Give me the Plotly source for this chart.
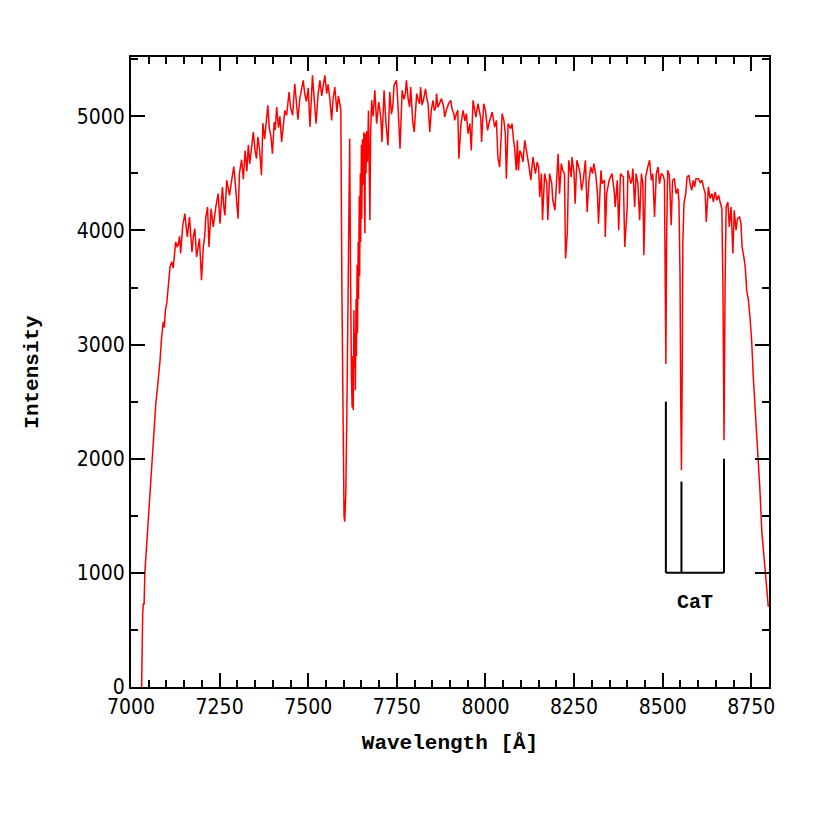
import plotly.graph_objects as go

# spectrum (wavelength in Angstrom, intensity)
wave = [7030, 7031, 7033, 7035, 7037, 7039, 7044, 7049, 7054, 7058, 7061, 7065, 7067, 7070, 7074, 7077, 7080, 7082, 7086, 7091,
        7094, 7097, 7101, 7105, 7108, 7110, 7115, 7119, 7123, 7126, 7130, 7133, 7137, 7140, 7146, 7152, 7155, 7159, 7165, 7168,
        7172, 7176, 7180, 7185, 7189, 7193, 7196, 7199, 7204, 7208, 7211, 7216, 7220, 7226, 7232, 7236, 7240, 7246, 7251, 7255,
        7258, 7262, 7265, 7270, 7274, 7278, 7284, 7290, 7295, 7302, 7306, 7312, 7317, 7322, 7327, 7331, 7335, 7340, 7345, 7350,
        7354, 7358, 7363, 7368, 7372, 7377, 7382, 7386, 7390, 7395, 7399, 7404, 7407, 7411, 7416, 7420, 7425, 7430, 7434, 7439,
        7446, 7450, 7456, 7462, 7466, 7471, 7476, 7481, 7486, 7490, 7495, 7500, 7505, 7512, 7517, 7522, 7528, 7533, 7538, 7542,
        7547, 7552, 7556, 7561, 7566, 7570, 7575, 7581, 7585, 7589, 7592, 7595, 7598, 7601, 7603, 7606, 7609, 7612, 7615, 7617,
        7619, 7620, 7622, 7624, 7626, 7627, 7629, 7630, 7632, 7633, 7635, 7636, 7638, 7639, 7641, 7642, 7644, 7645, 7647, 7648,
        7650, 7651, 7653, 7655, 7657, 7659, 7660, 7661, 7663, 7665, 7667, 7670, 7672, 7674, 7676, 7679, 7683, 7688, 7693, 7699,
        7705, 7708, 7714, 7719, 7725, 7730, 7735, 7739, 7742, 7749, 7753, 7759, 7765, 7770, 7774, 7777, 7782, 7786, 7789, 7795,
        7799, 7806, 7810, 7814, 7817, 7821, 7825, 7831, 7835, 7838, 7843, 7847, 7852, 7856, 7860, 7862, 7866, 7870, 7876, 7882,
        7885, 7890, 7896, 7902, 7906, 7911, 7913, 7918, 7922, 7925, 7928, 7931, 7937, 7942, 7946, 7951, 7956, 7960, 7965, 7969,
        7973, 7979, 7983, 7987, 7989, 7995, 8000, 8006, 8011, 8015, 8019, 8026, 8031, 8035, 8040, 8044, 8047, 8052, 8056, 8059,
        8064, 8071, 8075, 8079, 8082, 8087, 8090, 8093, 8097, 8101, 8106, 8111, 8118, 8123, 8128, 8134, 8141, 8146, 8150, 8153,
        8158, 8161, 8167, 8173, 8176, 8181, 8187, 8190, 8196, 8201, 8205, 8209, 8214, 8218, 8223, 8226, 8231, 8235, 8242, 8244,
        8250, 8253, 8258, 8263, 8267, 8271, 8276, 8282, 8287, 8292, 8297, 8302, 8306, 8312, 8316, 8319, 8326, 8329, 8336, 8338,
        8342, 8349, 8354, 8357, 8363, 8366, 8372, 8376, 8381, 8389, 8393, 8400, 8402, 8410, 8413, 8416, 8421, 8425, 8430, 8435,
        8440, 8444, 8447, 8452, 8458, 8463, 8468, 8472, 8477, 8482, 8487, 8491, 8496, 8501, 8505, 8507, 8509, 8511, 8514, 8519,
        8524, 8528, 8533, 8538, 8543, 8546, 8549, 8551, 8553, 8555, 8557, 8560, 8565, 8569, 8574, 8578, 8582, 8586, 8590, 8594,
        8597, 8601, 8606, 8611, 8615, 8620, 8623, 8626, 8629, 8634, 8639, 8643, 8648, 8653, 8658, 8662, 8667, 8670, 8673, 8676,
        8679, 8684, 8688, 8693, 8698, 8702, 8707, 8711, 8717, 8721, 8724, 8729, 8733, 8737, 8742, 8747, 8751, 8756, 8761, 8768,
        8774, 8780, 8786, 8790, 8794, 8798]

flux = [0, 630, 650, 733, 720, 996, 1229, 1491, 1696, 1959, 2100, 2280, 2300, 2484, 2600, 2688, 2750, 2864, 3050, 3199,
        3150, 3300, 3363, 3505, 3600, 3680, 3725, 3670, 3800, 3900, 3860, 3870, 3950, 3798, 4046, 4148, 4050, 3944, 4118, 4000,
        3812, 3950, 4016, 3768, 3850, 3929, 3750, 3564, 3856, 3950, 4118, 4206, 3856, 4190, 4031, 4150, 4221, 4323, 4060, 4250,
        4381, 4200, 4133, 4440, 4350, 4308, 4440, 4560, 4380, 4104, 4500, 4620, 4450, 4700, 4520, 4750, 4586, 4750, 4863, 4700,
        4630, 4820, 4700, 4484, 4940, 4800, 5000, 5097, 4900, 4820, 4673, 4950, 4880, 5082, 4900, 5000, 4776, 4950, 5050, 5009,
        5213, 5080, 5009, 5286, 5150, 4970, 5150, 5250, 5315, 5200, 5130, 5250, 4906, 5359, 5150, 4935, 5200, 5315, 5180, 5280,
        5359, 5200, 5280, 5155, 4965, 5150, 5257, 5038, 5180, 5111, 5050, 3500, 2000, 1500, 1448, 1700, 2400, 3500, 4500, 4805,
        3800, 3000, 2700, 2450, 2900, 2426, 3300, 2800, 3100, 2600, 3400, 2900, 3700, 3100, 3900, 3400, 4300, 3600, 4500, 3900,
        4750, 4100, 4800, 4400, 4860, 4200, 3976, 4850, 4500, 4870, 4600, 5050, 4700, 4090, 4863, 5140, 5000, 5228, 4936, 5126,
        4980, 4776, 5228, 4950, 4746, 5213, 5020, 5100, 5272, 5315, 5111, 4717, 5228, 5150, 5199, 5315, 5150, 5082, 5257, 4950,
        4863, 5199, 5150, 5111, 5257, 5100, 5140, 5242, 5150, 5111, 4863, 5050, 5140, 5050, 5082, 5199, 5080, 5111, 5155, 5082,
        4994, 5060, 5111, 5140, 5060, 5024, 4965, 5020, 5053, 4629, 4800, 4936, 5053, 4960, 5024, 4848, 4936, 4702, 5140, 5050,
        4994, 5111, 5030, 4980, 4776, 5111, 5053, 4877, 4950, 4994, 5038, 4906, 4965, 4644, 4556, 4800, 5024, 4965, 4850, 4454,
        4936, 4892, 4936, 4800, 4731, 4527, 4790, 4527, 4700, 4673, 4600, 4790, 4673, 4560, 4440, 4644, 4498, 4600, 4556, 4294,
        4498, 4090, 4498, 4411, 4090, 4498, 4411, 4265, 4177, 4440, 4673, 4323, 4586, 4527, 4498, 3754, 3979, 4615, 4469, 4644,
        4498, 4235, 4615, 4556, 4498, 4352, 4440, 4615, 4162, 4440, 4556, 4498, 4586, 4469, 4323, 4060, 4527, 4411, 4440, 3943,
        4323, 4440, 4469, 4498, 4352, 4206, 4440, 4002, 4498, 4469, 3856, 4206, 4527, 4411, 4440, 4542, 4206, 4498, 4411, 4090,
        4498, 4411, 3783, 4469, 4556, 4615, 4440, 4498, 4118, 4498, 4556, 4411, 4498, 4484, 4440, 3800, 2830, 3900, 4527, 4484,
        4046, 4440, 4454, 4323, 4367, 4250, 3600, 2500, 1900, 2700, 3900, 4235, 4323, 4469, 4484, 4400, 4352, 4440, 4382, 4454,
        4454, 4454, 4420, 4440, 4382, 4323, 4075, 4300, 4382, 4280, 4323, 4250, 4338, 4265, 4308, 4250, 4192, 3500, 2163, 3500,
        4206, 4250, 4031, 4206, 3798, 4177, 4002, 4104, 4118, 4060, 3856, 3768, 3680, 3476, 3388, 3213, 3038, 2700, 2450, 2119,
        1750, 1350, 1100, 996, 850, 703]

# Ca II triplet markers
cat_wave = [8509, 8553, 8673]
cat_top = [2500, 1800, 2000]
cat_base = 1000
cat_label = "CaT"

fig = go.Figure()

fig.add_trace(go.Scatter(x=wave, y=flux, mode='lines',
                         line=dict(color='#ff0000', width=1.5),
                         showlegend=False, hoverinfo='skip'))

# bracket for the CaT lines
bx, by = [], []
for w, t in zip(cat_wave, cat_top):
    bx += [w, w, None]
    by += [cat_base, t, None]
bx += [cat_wave[0], cat_wave[-1]]
by += [cat_base, cat_base]
fig.add_trace(go.Scatter(x=bx, y=by, mode='lines',
                         line=dict(color='black', width=2),
                         showlegend=False, hoverinfo='skip'))

fig.add_annotation(x=(cat_wave[0] + cat_wave[-1]) / 2, y=cat_base, yshift=-30,
                   text='<b>' + cat_label + '</b>', showarrow=False,
                   font=dict(family='Liberation Mono', size=20, color='black'))

tickfont = dict(family='DejaVu Sans Condensed', size=21, color='black')
titlefont = dict(family='Liberation Mono', size=21, color='black')

fig.update_xaxes(range=[7000, 8800], dtick=250, tick0=7000,
                 ticks='inside', ticklen=14, tickwidth=2, tickcolor='black',
                 minor=dict(ticks='inside', ticklen=7, tickwidth=2, dtick=50, tickcolor='black', showgrid=False),
                 showline=True, linewidth=2, linecolor='black', mirror='ticks',
                 showgrid=False, zeroline=False, tickfont=tickfont,
                 title=dict(text='<b>Wavelength [Å]</b>', font=titlefont, standoff=16))

fig.update_yaxes(range=[0, 5520], dtick=1000, tick0=0,
                 ticks='inside', ticklen=14, tickwidth=2, tickcolor='black',
                 minor=dict(ticks='inside', ticklen=7, tickwidth=2, dtick=500, tickcolor='black', showgrid=False),
                 showline=True, linewidth=2, linecolor='black', mirror='ticks',
                 showgrid=False, zeroline=False, tickfont=tickfont,
                 title=dict(text='<b>Intensity</b>', font=titlefont, standoff=32))

fig.update_layout(
    width=830, height=830,
    margin=dict(l=123, r=69, t=49, b=151, autoexpand=False),
    plot_bgcolor='white', paper_bgcolor='white',
)

fig.write_html("out.html")
